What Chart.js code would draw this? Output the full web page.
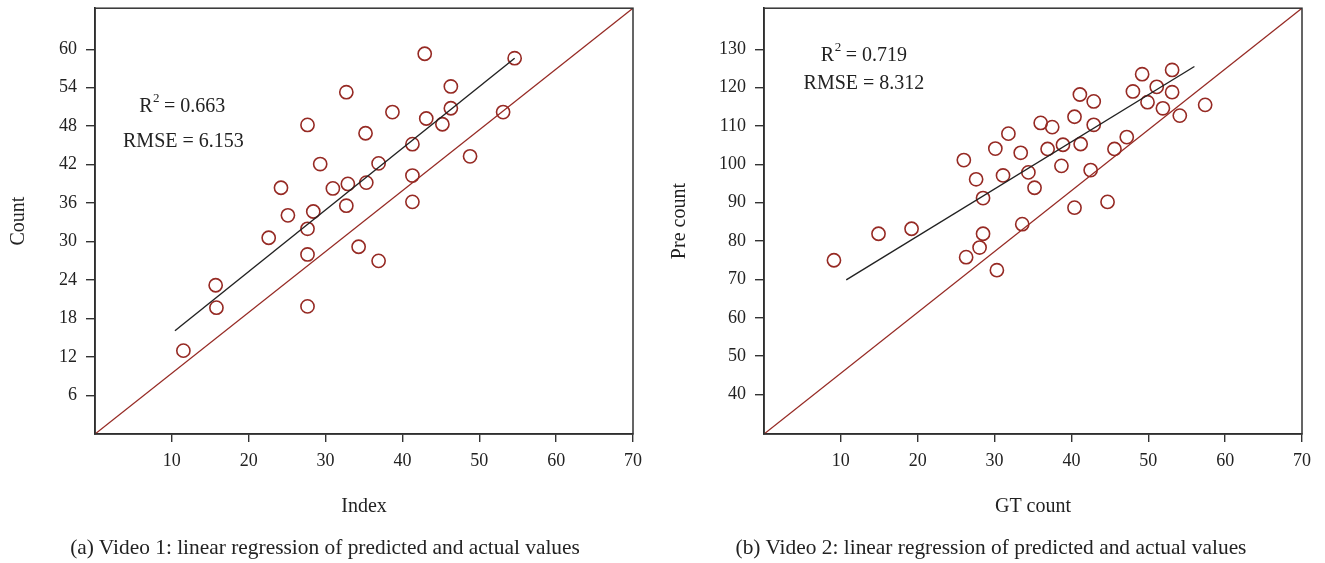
<!DOCTYPE html>
<html><head><meta charset="utf-8">
<script src="https://cdn.jsdelivr.net/npm/chart.js@4.4.1/dist/chart.umd.min.js"></script>
<style>
html,body{margin:0;padding:0;background:#fff;}
body{width:1325px;height:563px;position:relative;overflow:hidden;font-family:"Liberation Serif",serif;}
.wrap{position:absolute;top:0;height:563px;}
#w1{left:0;width:662px;} #w2{left:662px;width:663px;}
.cap{position:absolute;top:534px;font-size:21.4px;color:#222;white-space:nowrap;transform:translateX(-50%);line-height:26px;}
</style></head>
<body>
<div class="wrap" id="w1"><canvas id="c1" width="662" height="563"></canvas></div>
<div class="wrap" id="w2"><canvas id="c2" width="663" height="563"></canvas></div>
<div class="cap" style="left:325px">(a) Video 1: linear regression of predicted and actual values</div>
<div class="cap" style="left:991px">(b) Video 2: linear regression of predicted and actual values</div>
<script>
// ---- data ----
const v1X = [11.5,15.7,15.8,22.6,24.2,25.1,27.65,27.65,27.65,27.65,28.4,29.3,30.95,32.7,32.9,32.7,34.3,35.2,35.3,36.9,36.9,38.7,41.3,41.3,41.3,42.9,43.1,45.2,46.3,46.3,48.8,53.1,54.6];
const v1Y = [13.0,23.2,19.7,30.6,38.4,34.1,48.2,32.0,28.0,19.9,34.7,42.1,38.3,53.3,39.0,35.6,29.2,46.9,39.2,42.2,27.0,50.2,45.2,40.3,36.2,59.3,49.2,48.3,54.2,50.8,43.3,50.2,58.6];
const v2X = [9.1,14.9,19.2,26.0,26.3,27.6,28.05,28.5,28.5,30.1,30.3,31.1,31.8,33.4,33.6,34.4,35.2,36.0,36.9,37.5,38.7,38.9,40.4,40.4,41.1,41.2,42.5,42.9,42.9,44.7,45.6,47.2,48.0,49.2,49.9,51.1,51.9,53.1,53.1,54.1,57.4];
const v2Y = [75.0,81.9,83.2,101.1,75.8,96.1,78.3,91.2,81.9,104.1,72.4,97.1,108.0,103.0,84.4,97.9,93.9,110.8,104.0,109.7,99.6,105.1,112.4,88.7,118.2,105.3,98.5,116.4,110.3,90.2,104.0,107.1,119.0,123.5,116.2,120.2,114.6,124.6,118.8,112.7,115.5];
const fit1X = [10.4, 54.6];
const fit1Y = [16.1, 58.6];
const fit2X = [10.7, 56.0];
const fit2Y = [69.9, 125.5];
const ref1X = [0, 70];
const ref1Y = [0, 66.4];
const ref2X = [0, 70];
const ref2Y = [29.7, 140.7];
const xTicks = [10,20,30,40,50,60,70];
const yTicks1 = [6,12,18,24,30,36,42,48,54,60];
const yTicks2 = [40,50,60,70,80,90,100,110,120,130];
const r2Labels = ["0.663", "0.719"];
const rmseLabels = ["6.153", "8.312"];
const xTitles = ["Index", "GT count"];
const yTitles = ["Count", "Pre count"];

const RED = '#962a24';
const INK = '#222';
const FONT = '"Liberation Serif", "Times New Roman", serif';

function pts(xs, ys){ return xs.map((x,i)=>({x:x, y:ys[i]})); }

const boxPlugin = {
  id:'box',
  afterDraw(chart){
    const {ctx, chartArea:a} = chart;
    ctx.save(); ctx.strokeStyle='#333'; ctx.lineWidth=1.5;
    ctx.strokeRect(a.left, a.top, a.right-a.left, a.bottom-a.top);
    ctx.restore();
  }
};
const statsPlugin = {
  id:'stats',
  afterDatasetsDraw(chart, args, opts){
    const {ctx, scales:{x, y}} = chart;
    ctx.save();
    ctx.fillStyle = INK; ctx.textBaseline = 'middle';
    const big = '20px ' + FONT, small = '13px ' + FONT;
    ctx.font = big;
    const wR = ctx.measureText('R').width;
    const rest = ' = ' + opts.r2;
    const wRest = ctx.measureText(rest).width;
    ctx.font = small;
    const w2 = ctx.measureText('2').width;
    const total = wR + w2 + wRest;
    const cx = x.getPixelForValue(opts.at[0][0]), cy = y.getPixelForValue(opts.at[0][1]);
    const sx = cx - total/2;
    ctx.textAlign = 'left';
    ctx.font = big; ctx.fillText('R', sx, cy);
    ctx.font = small; ctx.fillText('2', sx + wR + 0.5, cy - 8);
    ctx.font = big; ctx.fillText(rest, sx + wR + w2, cy);
    ctx.textAlign = 'center';
    ctx.fillText('RMSE = ' + opts.rmse, x.getPixelForValue(opts.at[1][0]), y.getPixelForValue(opts.at[1][1]));
    ctx.restore();
  }
};

function makeChart(id, k, sx, sy, fx, fy, rx, ry, yMin, yMax, yTicks, yAxisW, padRight, yTitlePad){
  return new Chart(document.getElementById(id), {
    type:'scatter',
    data:{datasets:[
      {data:pts(rx, ry), showLine:true, borderColor:RED, borderWidth:1.3, pointRadius:0, fill:false},
      {data:pts(fx, fy), showLine:true, borderColor:INK, borderWidth:1.4, pointRadius:0, fill:false},
      {data:pts(sx, sy), showLine:false, pointStyle:'circle', pointRadius:6.6, borderWidth:1.6,
       borderColor:RED, backgroundColor:'rgba(0,0,0,0)'}
    ]},
    options:{
      responsive:false, animation:false, devicePixelRatio:1,
      layout:{padding:{top:3.7, right:padRight, left:0, bottom:0}},
      plugins:{legend:{display:false}, tooltip:{enabled:false},
        stats:{r2:r2Labels[k], rmse:rmseLabels[k], at: k===0 ? [[11.35,51.1],[11.5,45.5]] : [[13.0,128.4],[13.0,120.9]]}},
      scales:{
        x:{type:'linear', min:0, max:70,
          afterBuildTicks: s => { s.ticks = xTicks.map(v=>({value:v})); },
          afterFit: s => { s.height = 129; s.paddingLeft = 0; s.paddingRight = 0; },
          grid:{display:true, drawOnChartArea:false, drawTicks:true, tickLength:8, color:'#333', lineWidth:1.4},
          border:{display:true, color:'#222', width:1.6},
          ticks:{color:INK, font:{family:FONT, size:18}, padding:8, maxRotation:0, autoSkip:false},
          title:{display:true, text:xTitles[k], color:INK, font:{family:FONT, size:20}, padding:{top:0, bottom:44}}
        },
        y:{type:'linear', min:yMin, max:yMax,
          afterBuildTicks: s => { s.ticks = yTicks.map(v=>({value:v})); },
          afterFit: s => { s.width = yAxisW; s.paddingTop = 0; s.paddingBottom = 0; },
          grid:{display:true, drawOnChartArea:false, drawTicks:true, tickLength:9, color:'#333', lineWidth:1.4},
          border:{display:true, color:'#222', width:1.6},
          ticks:{color:INK, font:{family:FONT, size:18}, padding:9, autoSkip:false},
          title:{display:true, text:yTitles[k], color:INK, font:{family:FONT, size:20}, padding:{top:yTitlePad, bottom:0}}
        }
      }
    },
    plugins:[boxPlugin, statsPlugin]
  });
}

makeChart('c1', 0, v1X, v1Y, fit1X, fit1Y, ref1X, ref1Y, 0, 66.4, yTicks1, 95, 29, 6.5);
makeChart('c2', 1, v2X, v2Y, fit2X, fit2Y, ref2X, ref2Y, 29.7, 140.7, yTicks2, 102, 23, 6);
</script>
</body></html>
